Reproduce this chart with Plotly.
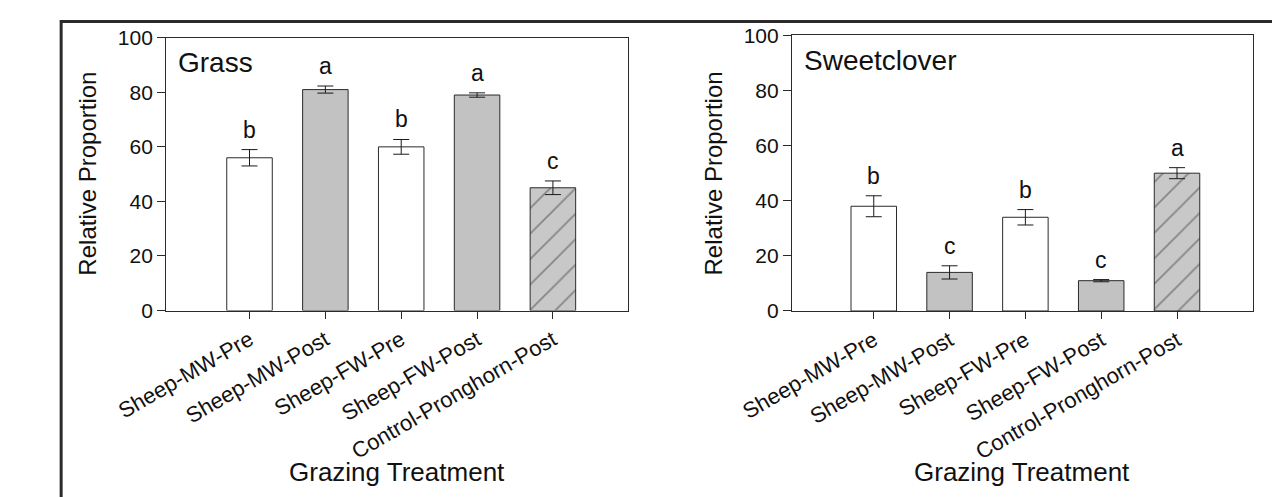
import plotly.graph_objects as go

# ---------------- data ----------------
categories = ["Sheep-MW-Pre", "Sheep-MW-Post", "Sheep-FW-Pre", "Sheep-FW-Post", "Control-Pronghorn-Post"]
grass_mean = [56, 81, 60, 79, 45]
grass_se = [3.0, 1.3, 2.7, 0.8, 2.5]
grass_letters = ["b", "a", "b", "a", "c"]
clover_mean = [38, 14, 34, 11, 50]
clover_se = [3.8, 2.4, 2.8, 0.4, 2.0]
clover_letters = ["b", "c", "b", "c", "a"]
y_ticks = [0, 20, 40, 60, 80, 100]
panel_names = ["Grass", "Sweetclover"]
x_title = "Grazing Treatment"
y_title = "Relative Proportion"

# ---------------- styles ----------------
W, H = 1272, 497
FONT = "Arial, 'Liberation Sans', sans-serif"
bar_fill = ["#ffffff", "#c2c2c2", "#ffffff", "#c2c2c2", "#c8c8c8"]
bar_hatch = ["", "", "", "", "/"]
xpos = list(range(len(categories)))

def px_x(p):
    return p / W

def px_y(p):
    return 1 - p / H

fig = go.Figure()

panels = [
    dict(mean=grass_mean, se=grass_se, letters=grass_letters, xa="x", ya="y",
         xdom=[px_x(118), px_x(600)], ydom=[px_y(313), px_y(27)], xr=[-1.1, 4.99],
         ytitle_x=36, ytitle_y=170),
    dict(mean=clover_mean, se=clover_se, letters=clover_letters, xa="x2", ya="y2",
         xdom=[px_x(771), px_x(1252)], ydom=[px_y(313.5), px_y(24.5)], xr=[-1.08, 5.0],
         ytitle_x=689, ytitle_y=169),
]

annotations = []
for i, p in enumerate(panels):
    fig.add_trace(go.Bar(
        x=xpos, y=p["mean"], width=0.6,
        xaxis=p["xa"], yaxis=p["ya"],
        marker=dict(color=bar_fill, line=dict(color="#2a2a2a", width=1),
                    pattern=dict(shape=bar_hatch, fillmode="overlay", fgcolor="#000000",
                                 size=18, solidity=0.1)),
        error_y=dict(type="data", array=p["se"], visible=True, color="#1a1a1a",
                     thickness=1, width=8),
        showlegend=False, hoverinfo="skip",
    ))
    for xi, (m, s, l) in enumerate(zip(p["mean"], p["se"], p["letters"])):
        annotations.append(dict(x=xi, y=m + s, xref=p["xa"], yref=p["ya"], text=l,
                                showarrow=False, yanchor="bottom", yshift=5,
                                font=dict(family=FONT, size=23, color="#111")))
    # panel label
    annotations.append(dict(x=0, xref=p["xa"] + " domain", y=91, yref=p["ya"],
                            text=panel_names[i], showarrow=False, xanchor="left",
                            yanchor="middle", xshift=10,
                            font=dict(family=FONT, size=28, color="#111")))
    # axis titles
    annotations.append(dict(x=px_x(p["ytitle_x"]), y=px_y(p["ytitle_y"]), xref="paper",
                            yref="paper", text=y_title, textangle=-90, showarrow=False,
                            xanchor="center", yanchor="middle",
                            font=dict(family=FONT, size=24, color="#111")))
    annotations.append(dict(x=(p["xdom"][0] + p["xdom"][1]) / 2, y=px_y(482), xref="paper",
                            yref="paper", text=x_title, showarrow=False,
                            xanchor="center", yanchor="middle",
                            font=dict(family=FONT, size=26, color="#111")))

axis_common = dict(showline=True, mirror=True, linecolor="#2a2a2a", linewidth=1,
                   showgrid=False, zeroline=False, ticks="outside", tickcolor="#2a2a2a")

layout = dict(
    width=W, height=H,
    margin=dict(l=0, r=0, t=0, b=0),
    paper_bgcolor="white", plot_bgcolor="white",
    annotations=annotations,
    shapes=[dict(type="rect", xref="paper", yref="paper",
                 x0=px_x(8.5), y0=-0.2, x1=1.2, y1=px_y(10),
                 line=dict(color="#2b2b2b", width=3))],
)
for i, p in enumerate(panels):
    sfx = "" if i == 0 else "2"
    layout["xaxis" + sfx] = dict(axis_common, domain=p["xdom"], range=p["xr"],
                                 tickmode="array", tickvals=xpos, ticktext=categories,
                                 tickangle=-30, ticklen=7,
                                 tickfont=dict(family=FONT, size=22, color="#111"),
                                 anchor="y" + sfx)
    layout["yaxis" + sfx] = dict(axis_common, domain=p["ydom"], range=[0, 100],
                                 tickmode="array", tickvals=y_ticks, ticklen=8,
                                 tickfont=dict(family=FONT, size=21, color="#111"),
                                 anchor="x" + sfx)

fig.update_layout(**layout)
fig.write_html("out.html", config={"displayModeBar": False},
               post_script="document.body.style.margin='0';document.body.style.overflow='hidden';")
